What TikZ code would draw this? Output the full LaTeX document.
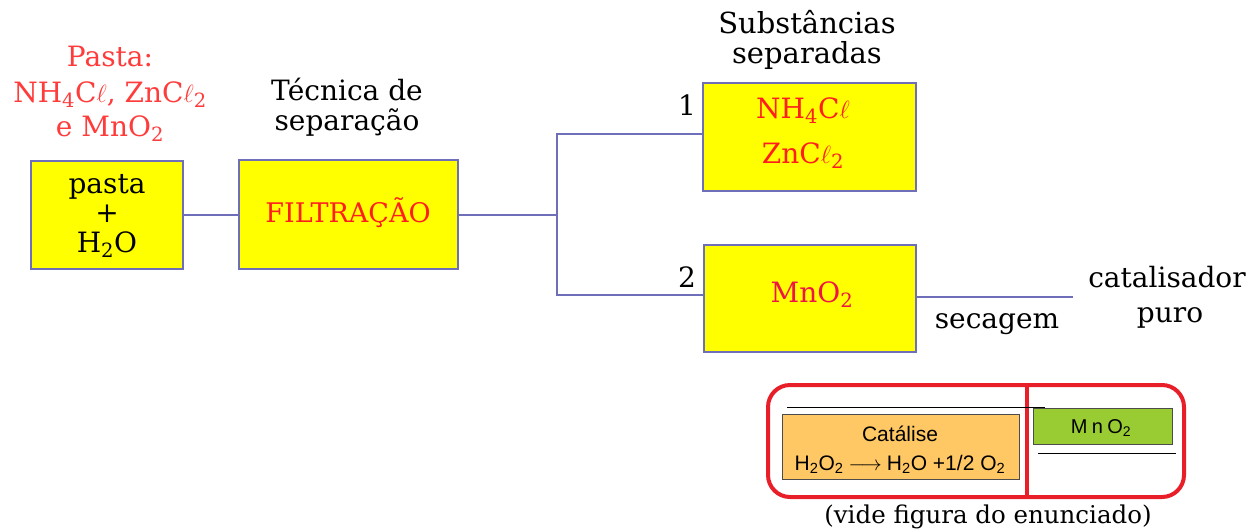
\documentclass[tikz,border=0pt]{standalone}
\usepackage{fontspec}
\setmainfont{DejaVu Serif}
\newfontfamily\arialf{Liberation Sans}
\newfontfamily\arialsp[LetterSpace=22]{Liberation Sans}
\definecolor{edge}{RGB}{110,110,185}
\definecolor{ybox}{RGB}{255,255,0}
\definecolor{txtred}{RGB}{255,30,30}
\definecolor{lred}{RGB}{255,60,60}
\definecolor{crim}{RGB}{240,20,70}
\definecolor{frame}{RGB}{232,30,40}
\definecolor{orangebox}{RGB}{255,200,100}
\definecolor{greenbox}{RGB}{153,204,51}
\newcommand\sbs[1]{\textsubscript{#1}}
\newcommand\myell{$\ell$}
\begin{document}
\begin{tikzpicture}[x=1pt,y=-1pt,
  ybx/.style={draw=edge, line width=1.5pt, fill=ybox, inner sep=0pt},
  conn/.style={draw=edge, line width=1.5pt},
  lbl/.style={anchor=base, inner sep=0pt, font=\fontsize{28}{32}\selectfont},
  rlbl/.style={lbl, text=txtred},
  sfl/.style={anchor=base, inner sep=0pt, font=\arialf\fontsize{21}{24}\selectfont},
]
\useasboundingbox (0,0) rectangle (1250,531);
% boxes
\node[ybx, minimum width=152pt, minimum height=108pt] (A) at (107,215) {};
\node[ybx, minimum width=219pt, minimum height=109pt] (B) at (348.5,214.5) {};
\node[ybx, minimum width=213pt, minimum height=108pt] (C) at (809.5,137) {};
\node[ybx, minimum width=212pt, minimum height=107pt] (D) at (810,298.5) {};
% connectors
\coordinate (j) at (557,215);
\coordinate (j1) at (557,134);
\coordinate (j2) at (557,295);
\coordinate (e) at (1073,297);
\draw[conn] (A.east) -- (A.east -| B.west);
\draw[conn] (B.east |- j) -- (j);
\draw[conn] (j1 -| C.west) -- (j1) -- (j2) -- (j2 -| D.west);
\draw[conn] (D.east |- e) -- (e);
% texts left
\node[lbl, text=lred] (p1) at (110,66) {Pasta:};
\node[rlbl, text=lred] (p2) at (110,102) {NH\sbs{4}C\myell, ZnC\myell\sbs{2}};
\node[rlbl, text=lred] (p3) at (110,136) {e MnO\sbs{2}};
\node[lbl] (a1) at (107,193) {pasta};
\node[lbl] (a2) at (107,222) {+};
\node[lbl] (a3) at (107,252) {H\sbs{2}O};
\node[lbl] (t1) at (347,100) {Técnica de};
\node[lbl] (t2) at (347,130) {separação};
\node[rlbl, font=\fontsize{27}{32}\selectfont] (f) at (348,222) {FILTRAÇÃO};
\node[lbl, font=\fontsize{29}{32}\selectfont] (s1) at (807,33) {Substâncias};
\node[lbl, font=\fontsize{29}{32}\selectfont] (s2) at (807,63) {separadas};
\node[lbl] (n1) at (687,115) {1};
\node[lbl] (n2) at (687,287) {2};
\node[rlbl] (c1) at (803,118) {NH\sbs{4}C\myell};
\node[rlbl] (c2) at (803,163) {ZnC\myell\sbs{2}};
\node[lbl, text=crim] (d1) at (812,302) {MnO\sbs{2}};
\node[lbl] (sec) at (997,328) {secagem};
\node[lbl] (cat1) at (1167,287) {catalisador};
\node[lbl] (cat2) at (1170,322) {puro};
% lower figure
\draw[frame, line width=4pt, rounded corners=22pt] (768,385) rectangle (1184,497);
\draw[frame, line width=4pt] (1027,385) -- (1027,497);
\draw[black, line width=1pt] (787,407) -- (1045,407);
\node[draw=black!70, fill=orangebox, minimum width=237pt, minimum height=65pt, inner sep=0pt] (O) at (900.5,446.5) {};
\node[draw=black!70, fill=greenbox, minimum width=139pt, minimum height=36pt, inner sep=0pt] (G) at (1102.5,426) {};
\draw[black, line width=1pt] (1038,453) -- (1176,453);
\node[sfl] (o1) at (900,441) {Catálise};
\node[sfl] (o2) at (900,470) {H\sbs{2}O\sbs{2}\hspace{5pt}$\longrightarrow$\hspace{5pt}H\sbs{2}O +1/2 O\sbs{2}};
\node[sfl, font=\arialsp\fontsize{20}{24}\selectfont] (g1) at (1101,433) {MnO\sbs{2}};
\node[lbl, font=\fontsize{24.5}{28}\selectfont] (vide) at (988,523) {(vide figura do enunciado)};
\end{tikzpicture}
\end{document}
